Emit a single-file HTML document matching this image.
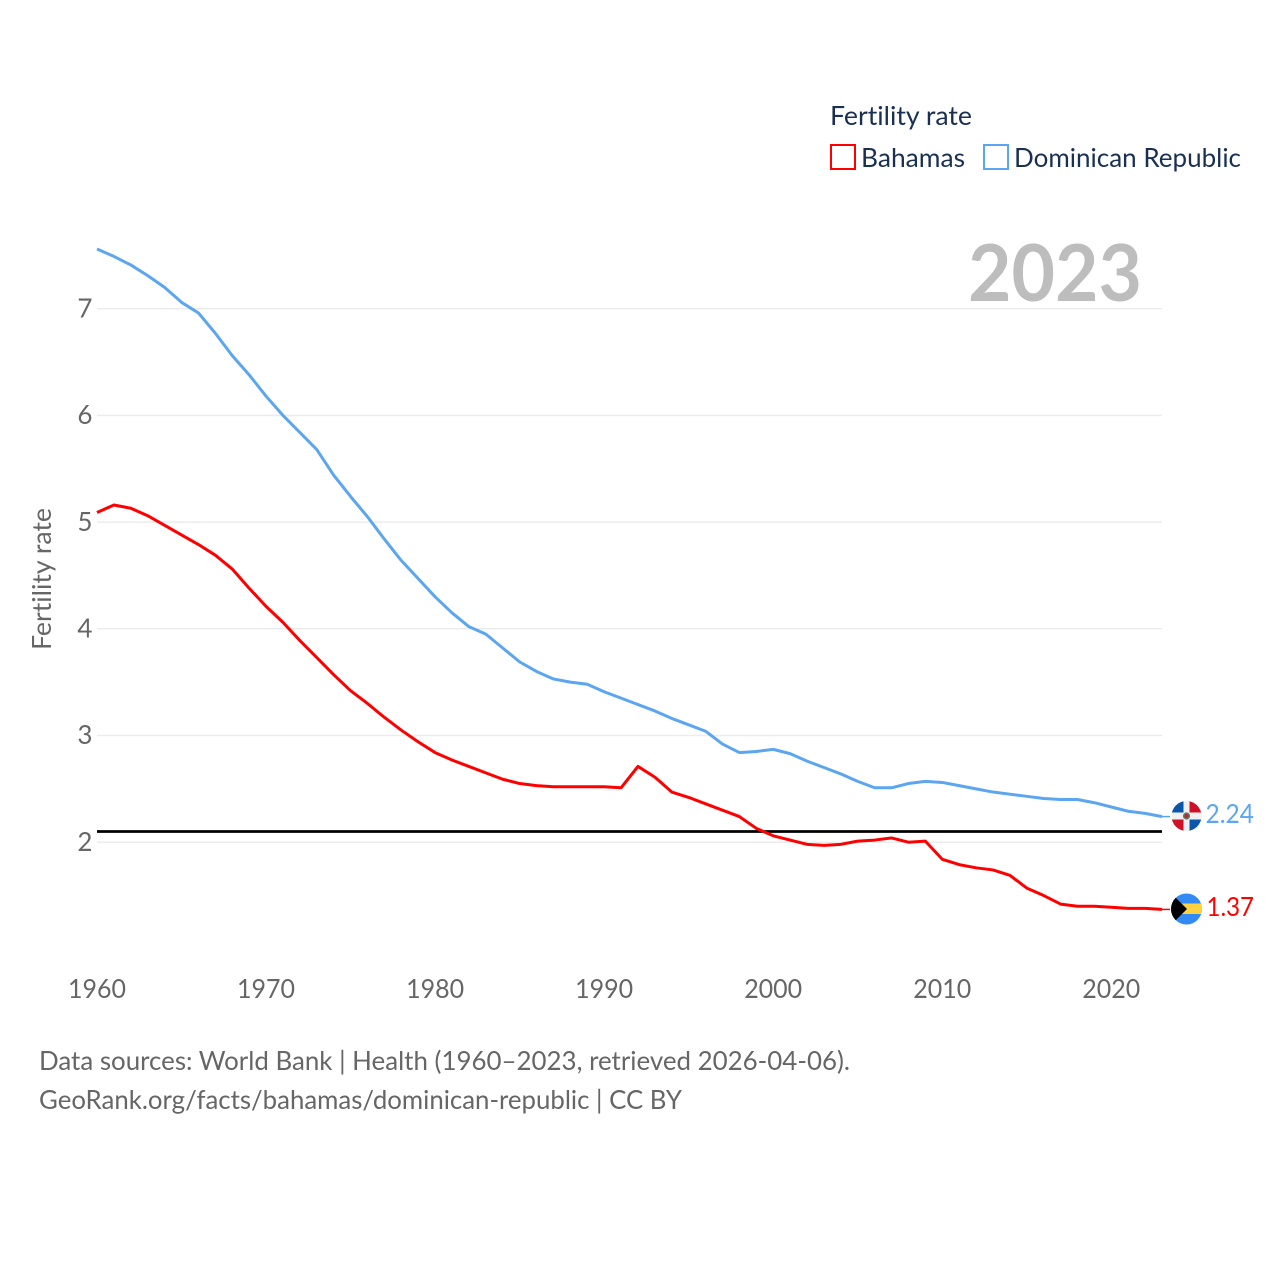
<!DOCTYPE html>
<html lang="en">
<head>
<meta charset="utf-8">
<title>Fertility rate: Bahamas and Dominican Republic</title>
<style>
html,body{margin:0;padding:0;background:#fff;width:1280px;height:1280px;overflow:hidden}
svg{display:block}
text{font-family:"Lato","Carlito","Liberation Sans",sans-serif;font-variant-ligatures:none;font-feature-settings:"liga" 0,"clig" 0}
.tick{font-size:26px;fill:#666}
.leg{font-size:26px;fill:#1a3052}
.foot{font-size:26px;fill:#666}
</style>
</head>
<body>
<svg id="chart" xmlns="http://www.w3.org/2000/svg" width="1280" height="1280" viewBox="0 0 1280 1280">
  <defs>
    <clipPath id="clip-flag-do"><circle cx="1186.5" cy="816" r="15"/></clipPath>
    <clipPath id="clip-flag-bs"><circle cx="1186.5" cy="909" r="15.5"/></clipPath>
  </defs>
  <rect x="0" y="0" width="1280" height="1280" fill="#fff"/>

  <g id="grid"></g>
  <g id="yticks"></g>
  <g id="xticks"></g>

  <text class="tick" transform="translate(51,650) rotate(-90)" textLength="142" lengthAdjust="spacingAndGlyphs">Fertility rate</text>

  <text x="968" y="301" font-size="79" font-weight="700" fill="#bdbdbd" textLength="174" lengthAdjust="spacingAndGlyphs">2023</text>

  <line id="reference-line" stroke="#000" stroke-width="2.8"/>

  <path id="line-bs" fill="none" stroke="#ff0000" stroke-width="3" stroke-linejoin="round"/>
  <path id="line-do" fill="none" stroke="#5ba6ee" stroke-width="3" stroke-linejoin="round"/>
  <line id="conn-bs" stroke="#ff0000" stroke-width="1.5"/>
  <line id="conn-do" stroke="#5ba6ee" stroke-width="1.5"/>

  <g clip-path="url(#clip-flag-do)">
    <rect x="1171" y="800" width="31" height="32" fill="#f0f0f0"/>
    <rect x="1171" y="800" width="12.5" height="12.5" fill="#0a56ab"/>
    <rect x="1189.5" y="800" width="13" height="12.5" fill="#ce1126"/>
    <rect x="1171" y="819.5" width="12.5" height="13" fill="#ce1126"/>
    <rect x="1189.5" y="819.5" width="13" height="13" fill="#0a56ab"/>
    <circle cx="1186.5" cy="816" r="3.6" fill="#5d7a6a"/>
    <circle cx="1186.5" cy="816" r="2" fill="#c8232c"/>
  </g>
  <g clip-path="url(#clip-flag-bs)">
    <rect x="1171" y="893" width="31" height="32" fill="#338af3"/>
    <rect x="1171" y="903.5" width="31" height="10.5" fill="#ffd23f"/>
    <path d="M1171 893 L1187 909 L1171 925 Z" fill="#000"/>
  </g>

  <text x="1205.5" y="823" font-size="26" fill="#5ba6ee" textLength="48.5" lengthAdjust="spacingAndGlyphs">2.24</text>
  <text x="1206.5" y="916" font-size="26" fill="#ff0000" textLength="47.5" lengthAdjust="spacingAndGlyphs">1.37</text>

  <g>
    <text class="leg" x="830" y="125" textLength="142" lengthAdjust="spacingAndGlyphs">Fertility rate</text>
    <rect x="831" y="145" width="24" height="24" fill="#fff" stroke="#ff0000" stroke-width="2"/>
    <text class="leg" x="861" y="167" textLength="104" lengthAdjust="spacingAndGlyphs">Bahamas</text>
    <rect x="984" y="145" width="24" height="24" fill="#fff" stroke="#5ba6ee" stroke-width="2"/>
    <text class="leg" x="1014" y="167" textLength="227" lengthAdjust="spacingAndGlyphs">Dominican Republic</text>
  </g>

  <text class="foot" x="39" y="1070" textLength="811" lengthAdjust="spacingAndGlyphs">Data sources: World Bank | Health (1960–2023, retrieved 2026-04-06).</text>
  <text class="foot" x="39" y="1109" textLength="643" lengthAdjust="spacingAndGlyphs">GeoRank.org/facts/bahamas/dominican-republic | CC BY</text>
</svg>
<script>
const startYear = 1960;
const endYear = 2023;
const yTickValues = [2, 3, 4, 5, 6, 7];
const xTickYears = [1960, 1970, 1980, 1990, 2000, 2010, 2020];
const replacementRate = 2.1;
const bahamasValues = [
  5.09, 5.16, 5.13, 5.06, 4.97, 4.88, 4.79, 4.69, 4.56, 4.38,
  4.21, 4.06, 3.89, 3.73, 3.57, 3.42, 3.30, 3.17, 3.05, 2.94,
  2.84, 2.77, 2.71, 2.65, 2.59, 2.55, 2.53, 2.52, 2.52, 2.52,
  2.52, 2.51, 2.71, 2.61, 2.47, 2.42, 2.36, 2.30, 2.24, 2.13,
  2.06, 2.02, 1.98, 1.97, 1.98, 2.01, 2.02, 2.04, 2.00, 2.01,
  1.84, 1.79, 1.76, 1.74, 1.69, 1.57, 1.50, 1.42, 1.40, 1.40,
  1.39, 1.38, 1.38, 1.37
];
const dominicanValues = [
  7.56, 7.49, 7.41, 7.31, 7.20, 7.06, 6.96, 6.77, 6.56, 6.38,
  6.18, 6.00, 5.84, 5.68, 5.44, 5.24, 5.05, 4.84, 4.64, 4.47,
  4.30, 4.15, 4.02, 3.95, 3.82, 3.69, 3.60, 3.53, 3.50, 3.48,
  3.41, 3.35, 3.29, 3.23, 3.16, 3.10, 3.04, 2.92, 2.84, 2.85,
  2.87, 2.83, 2.76, 2.70, 2.64, 2.57, 2.51, 2.51, 2.55, 2.57,
  2.56, 2.53, 2.50, 2.47, 2.45, 2.43, 2.41, 2.40, 2.40, 2.37,
  2.33, 2.29, 2.27, 2.24
];

const NS = 'http://www.w3.org/2000/svg';
const plotLeft = 97;
const plotRight = 1162;
function xScale(year) {
  return plotLeft + (year - startYear) * (plotRight - plotLeft) / (endYear - startYear);
}
function yScale(value) {
  return 842.2 - (value - 2) * 106.7;
}
function linePath(values) {
  return values.map(function (v, i) {
    return (i ? 'L' : 'M') + xScale(startYear + i).toFixed(2) + ' ' + yScale(v).toFixed(2);
  }).join(' ');
}

const grid = document.getElementById('grid');
const yticks = document.getElementById('yticks');
const xticks = document.getElementById('xticks');

yTickValues.forEach(function (v) {
  const gl = document.createElementNS(NS, 'line');
  
  
  gl.setAttribute('x1', plotLeft);
  gl.setAttribute('x2', plotRight);
  gl.setAttribute('y1', yScale(v));
  gl.setAttribute('y2', yScale(v));
  gl.setAttribute('stroke', '#ececec');
  gl.setAttribute('stroke-width', '1.5');
  grid.appendChild(gl);

  const t = document.createElementNS(NS, 'text');
  
  
  t.setAttribute('class', 'tick');
  t.setAttribute('x', 92.5);
  t.setAttribute('y', yScale(v) + 8.7);
  t.setAttribute('text-anchor', 'end');
  t.textContent = String(v);
  yticks.appendChild(t);
});

xTickYears.forEach(function (yr) {
  const t = document.createElementNS(NS, 'text');
  
  
  t.setAttribute('class', 'tick');
  t.setAttribute('x', xScale(yr));
  t.setAttribute('y', 998);
  t.setAttribute('text-anchor', 'middle');
  t.setAttribute('textLength', '58');
  t.setAttribute('lengthAdjust', 'spacingAndGlyphs');
  t.textContent = String(yr);
  xticks.appendChild(t);
});

const ref = document.getElementById('reference-line');
ref.setAttribute('x1', plotLeft);
ref.setAttribute('x2', plotRight);
ref.setAttribute('y1', yScale(replacementRate));
ref.setAttribute('y2', yScale(replacementRate));

document.getElementById('line-bs').setAttribute('d', linePath(bahamasValues));
document.getElementById('line-do').setAttribute('d', linePath(dominicanValues));

const connBs = document.getElementById('conn-bs');
connBs.setAttribute('x1', plotRight);
connBs.setAttribute('x2', 1170);
connBs.setAttribute('y1', yScale(bahamasValues[bahamasValues.length - 1]));
connBs.setAttribute('y2', yScale(bahamasValues[bahamasValues.length - 1]));

const connDo = document.getElementById('conn-do');
connDo.setAttribute('x1', plotRight);
connDo.setAttribute('x2', 1170);
connDo.setAttribute('y1', yScale(dominicanValues[dominicanValues.length - 1]));
connDo.setAttribute('y2', yScale(dominicanValues[dominicanValues.length - 1]));
</script>
</body>
</html>
